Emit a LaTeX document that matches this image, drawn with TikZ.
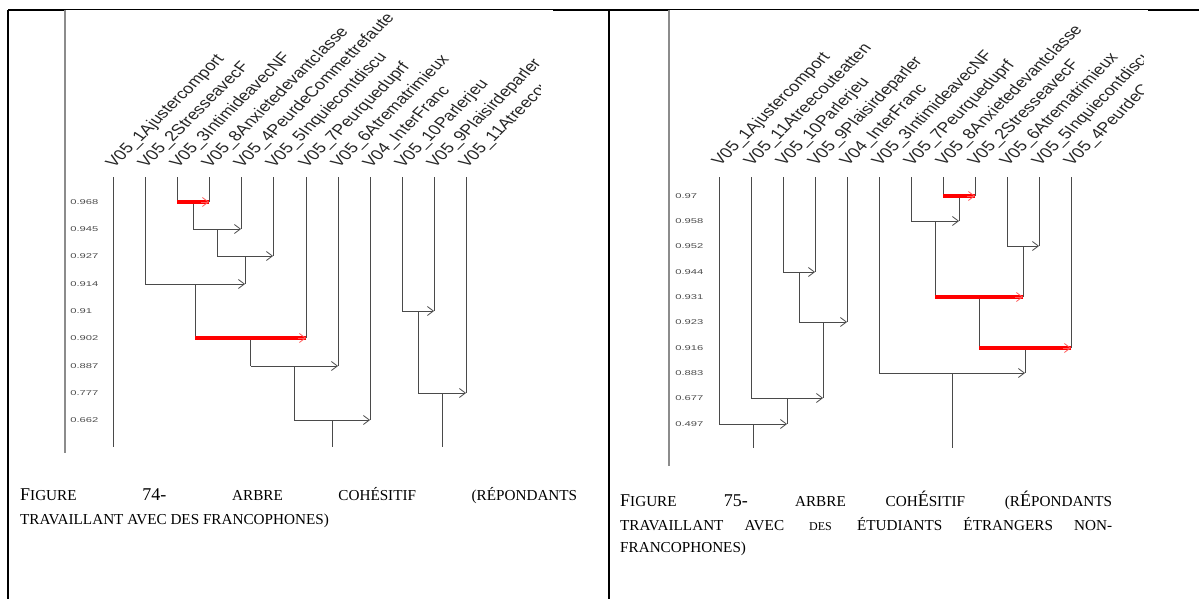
\documentclass[tikz,border=0pt]{standalone}
\usepackage{fontspec}
\setmainfont{Liberation Serif}
\newfontfamily\plotfont{Liberation Sans}
\usetikzlibrary{arrows.meta, calc}
\definecolor{treegray}{HTML}{4A4A4A}
\definecolor{axisgray}{HTML}{8C8C8C}
\definecolor{tipred}{HTML}{FF5A5A}
\newcommand{\capsmall}[1]{{\fontsize{15.2}{18}\selectfont #1}}
\newcommand{\capsmaller}[1]{{\fontsize{12}{14}\selectfont #1}}

\begin{document}
\begin{tikzpicture}[x=1pt, y=-1pt,
  tableline/.style={draw=black, line width=2pt},
  imgline/.style={draw=black, line width=1pt},
  axisline/.style={draw=axisgray, line width=2pt},
  link/.style={draw=treegray, line width=0.9pt},
  arr/.style={link, -{Straight Barb[length=6pt, width=9pt, line width=0.8pt]}},
  hot/.style={draw=red, line width=3.5pt},
  hottip/.style={draw=tipred, line width=0.8pt, -{Straight Barb[length=6pt, width=9pt]}},
  lvl/.style={font={\plotfont\fontsize{7}{8}\selectfont}, text=black!70, anchor=west, inner sep=0pt, xscale=1.6},
  leaf/.style={font={\plotfont\fontsize{14.6}{16}\selectfont}, text=black!85, anchor=base west, inner sep=0pt, xscale=1.25, rotate=51},
  figcap/.style={anchor=base west, inner sep=0pt, font=\fontsize{18}{21}\selectfont}
]
\useasboundingbox (0,0) rectangle (1199,599);

% Table frame
\draw[tableline] (8,10) -- (8,599);
\draw[tableline] (609,10) -- (609,599);
\draw[tableline] (8,10) -- (65,10);
\draw[tableline] (553,10) -- (669,10);
\draw[tableline] (1148,10) -- (1199,10);
\draw[imgline] (65,9.5) -- (553,9.5);
\draw[imgline] (669,9.5) -- (1148,9.5);
\draw[axisline] (65,10) -- (65,453);
\draw[axisline] (669,10) -- (669,466);

% Left tree: levels
\node[lvl] (lv968) at (70,202) {0.968};
\node[lvl] (lv945) at (70,229) {0.945};
\node[lvl] (lv927) at (70,256) {0.927};
\node[lvl] (lv914) at (70,284) {0.914};
\node[lvl] (lv910) at (70,311) {0.91};
\node[lvl] (lv902) at (70,338) {0.902};
\node[lvl] (lv887) at (70,366) {0.887};
\node[lvl] (lv777) at (70,393) {0.777};
\node[lvl] (lv662) at (70,420) {0.662};
\coordinate (lbot) at (0,447);

% Left tree: leaves
\coordinate (a1) at (113,177);
\coordinate (a2) at (145,177);
\coordinate (a3) at (177,177);
\coordinate (a4) at (209,177);
\coordinate (a5) at (241,177);
\coordinate (a6) at (273,177);
\coordinate (a7) at (306,177);
\coordinate (a8) at (338,177);
\coordinate (a9) at (370,177);
\coordinate (a10) at (402,177);
\coordinate (a11) at (434,177);
\coordinate (a12) at (466,177);

\begin{scope}
\clip (8,10) rectangle (540,470);
\node[leaf] (la1) at ([xshift=1pt,yshift=8pt]a1) {V05\_1Ajustercomport};
\node[leaf] (la2) at ([xshift=1pt,yshift=8pt]a2) {V05\_2StresseavecF};
\node[leaf] (la3) at ([xshift=1pt,yshift=8pt]a3) {V05\_3IntimideavecNF};
\node[leaf] (la4) at ([xshift=1pt,yshift=8pt]a4) {V05\_8Anxietedevantclasse};
\node[leaf] (la5) at ([xshift=1pt,yshift=8pt]a5) {V05\_4PeurdeCommettrefaute};
\node[leaf] (la6) at ([xshift=1pt,yshift=8pt]a6) {V05\_5Inquiecontdiscu};
\node[leaf] (la7) at ([xshift=1pt,yshift=8pt]a7) {V05\_7Peurqueduprf};
\node[leaf] (la8) at ([xshift=1pt,yshift=8pt]a8) {V05\_6Atrematrimieux};
\node[leaf] (la9) at ([xshift=1pt,yshift=8pt]a9) {V04\_InterFranc};
\node[leaf] (la10) at ([xshift=1pt,yshift=8pt]a10) {V05\_10Parlerjeu};
\node[leaf] (la11) at ([xshift=1pt,yshift=8pt]a11) {V05\_9Plaisirdeparler};
\node[leaf] (la12) at ([xshift=1pt,yshift=8pt]a12) {V05\_11Atreecouteatten};
\end{scope}

% Left tree: junctions
\coordinate (n968) at ($(a3 |- lv968)!.5!(a4 |- lv968)$);
\coordinate (n945) at ($(n968 |- lv945)!.5!(a5 |- lv945)$);
\coordinate (n927) at ($(n945 |- lv927)!.5!(a6 |- lv927)$);
\coordinate (n914) at ($(a2 |- lv914)!.5!(n927 |- lv914)$);
\coordinate (n902) at ($(n914 |- lv902)!.5!(a7 |- lv902)$);
\coordinate (n887) at ($(n902 |- lv887)!.5!(a8 |- lv887)$);
\coordinate (n662) at ($(n887 |- lv662)!.5!(a9 |- lv662)$);
\coordinate (n910) at ($(a10 |- lv910)!.5!(a11 |- lv910)$);
\coordinate (n777) at ($(n910 |- lv777)!.5!(a12 |- lv777)$);

% Left tree: stems
\draw[link] (a1) -- (a1 |- lbot);
\draw[link] (a2) -- (a2 |- lv914);
\draw[link] (a3) -- (a3 |- lv968);
\draw[link] (a4) -- (a4 |- lv968);
\draw[link] (a5) -- (a5 |- lv945);
\draw[link] (a6) -- (a6 |- lv927);
\draw[link] (a7) -- (a7 |- lv902);
\draw[link] (a8) -- (a8 |- lv887);
\draw[link] (a9) -- (a9 |- lv662);
\draw[link] (a10) -- (a10 |- lv910);
\draw[link] (a11) -- (a11 |- lv910);
\draw[link] (a12) -- (a12 |- lv777);
\draw[link] (n968) -- (n968 |- lv945);
\draw[link] (n945) -- (n945 |- lv927);
\draw[link] (n927) -- (n927 |- lv914);
\draw[link] (n914) -- (n914 |- lv902);
\draw[link] (n902) -- (n902 |- lv887);
\draw[link] (n887) -- (n887 |- lv662);
\draw[link] (n662) -- (n662 |- lbot);
\draw[link] (n910) -- (n910 |- lv777);
\draw[link] (n777) -- (n777 |- lbot);

% Left tree: arrows
\draw[hot] (a3 |- n968) -- (a4 |- n968);
\draw[hottip] ($(a4 |- n968)+(-8,0)$) -- (a4 |- n968);
\draw[arr] (n968 |- n945) -- (a5 |- n945);
\draw[arr] (n945 |- n927) -- (a6 |- n927);
\draw[arr] (a2 |- n914) -- (n927 |- n914);
\draw[hot] (n914 |- n902) -- (a7 |- n902);
\draw[hottip] ($(a7 |- n902)+(-8,0)$) -- (a7 |- n902);
\draw[arr] (n902 |- n887) -- (a8 |- n887);
\draw[arr] (n887 |- n662) -- (a9 |- n662);
\draw[arr] (a10 |- n910) -- (a11 |- n910);
\draw[arr] (n910 |- n777) -- (a12 |- n777);

% Right tree: levels
\node[lvl] (rv970) at (675,196) {0.97};
\node[lvl] (rv958) at (675,221) {0.958};
\node[lvl] (rv952) at (675,246) {0.952};
\node[lvl] (rv944) at (675,272) {0.944};
\node[lvl] (rv931) at (675,297) {0.931};
\node[lvl] (rv923) at (675,322) {0.923};
\node[lvl] (rv916) at (675,348) {0.916};
\node[lvl] (rv883) at (675,373) {0.883};
\node[lvl] (rv677) at (675,398) {0.677};
\node[lvl] (rv497) at (675,424) {0.497};
\coordinate (rbot) at (0,448);

% Right tree: leaves
\coordinate (b1) at (719,177);
\coordinate (b2) at (751,177);
\coordinate (b3) at (783,177);
\coordinate (b4) at (815,177);
\coordinate (b5) at (847,177);
\coordinate (b6) at (879,177);
\coordinate (b7) at (911,177);
\coordinate (b8) at (943,177);
\coordinate (b9) at (975,177);
\coordinate (b10) at (1007,177);
\coordinate (b11) at (1039,177);
\coordinate (b12) at (1071,177);

\begin{scope}
\clip (669,10) rectangle (1143,470);
\node[leaf] (lb1) at ([xshift=1pt,yshift=10pt]b1) {V05\_1Ajustercomport};
\node[leaf] (lb2) at ([xshift=1pt,yshift=10pt]b2) {V05\_11Atreecouteatten};
\node[leaf] (lb3) at ([xshift=1pt,yshift=10pt]b3) {V05\_10Parlerjeu};
\node[leaf] (lb4) at ([xshift=1pt,yshift=10pt]b4) {V05\_9Plaisirdeparler};
\node[leaf] (lb5) at ([xshift=1pt,yshift=10pt]b5) {V04\_InterFranc};
\node[leaf] (lb6) at ([xshift=1pt,yshift=10pt]b6) {V05\_3IntimideavecNF};
\node[leaf] (lb7) at ([xshift=1pt,yshift=10pt]b7) {V05\_7Peurqueduprf};
\node[leaf] (lb8) at ([xshift=1pt,yshift=10pt]b8) {V05\_8Anxietedevantclasse};
\node[leaf] (lb9) at ([xshift=1pt,yshift=10pt]b9) {V05\_2StresseavecF};
\node[leaf] (lb10) at ([xshift=1pt,yshift=10pt]b10) {V05\_6Atrematrimieux};
\node[leaf] (lb11) at ([xshift=1pt,yshift=10pt]b11) {V05\_5Inquiecontdiscu};
\node[leaf] (lb12) at ([xshift=1pt,yshift=10pt]b12) {V05\_4PeurdeCommettrefaute};
\end{scope}

% Right tree: junctions
\coordinate (m944) at ($(b3 |- rv944)!.5!(b4 |- rv944)$);
\coordinate (m923) at ($(m944 |- rv923)!.5!(b5 |- rv923)$);
\coordinate (m677) at ($(b2 |- rv677)!.5!(m923 |- rv677)$);
\coordinate (m497) at ($(b1 |- rv497)!.5!(m677 |- rv497)$);
\coordinate (m970) at ($(b8 |- rv970)!.5!(b9 |- rv970)$);
\coordinate (m958) at ($(b7 |- rv958)!.5!(m970 |- rv958)$);
\coordinate (m952) at ($(b10 |- rv952)!.5!(b11 |- rv952)$);
\coordinate (m931) at ($(m958 |- rv931)!.5!(m952 |- rv931)$);
\coordinate (m916) at ($(m931 |- rv916)!.5!(b12 |- rv916)$);
\coordinate (m883) at ($(b6 |- rv883)!.5!(m916 |- rv883)$);

% Right tree: stems
\draw[link] (b1) -- (b1 |- rv497);
\draw[link] (b2) -- (b2 |- rv677);
\draw[link] (b3) -- (b3 |- rv944);
\draw[link] (b4) -- (b4 |- rv944);
\draw[link] (b5) -- (b5 |- rv923);
\draw[link] (b6) -- (b6 |- rv883);
\draw[link] (b7) -- (b7 |- rv958);
\draw[link] (b8) -- (b8 |- rv970);
\draw[link] (b9) -- (b9 |- rv970);
\draw[link] (b10) -- (b10 |- rv952);
\draw[link] (b11) -- (b11 |- rv952);
\draw[link] (b12) -- (b12 |- rv916);
\draw[link] (m944) -- (m944 |- rv923);
\draw[link] (m923) -- (m923 |- rv677);
\draw[link] (m677) -- (m677 |- rv497);
\draw[link] (m497) -- (m497 |- rbot);
\draw[link] (m970) -- (m970 |- rv958);
\draw[link] (m958) -- (m958 |- rv931);
\draw[link] (m952) -- (m952 |- rv931);
\draw[link] (m931) -- (m931 |- rv916);
\draw[link] (m916) -- (m916 |- rv883);
\draw[link] (m883) -- (m883 |- rbot);

% Right tree: arrows
\draw[arr] (b3 |- m944) -- (b4 |- m944);
\draw[arr] (m944 |- m923) -- (b5 |- m923);
\draw[arr] (b2 |- m677) -- (m923 |- m677);
\draw[arr] (b1 |- m497) -- (m677 |- m497);
\draw[hot] (b8 |- m970) -- (b9 |- m970);
\draw[hottip] ($(b9 |- m970)+(-8,0)$) -- (b9 |- m970);
\draw[arr] (b7 |- m958) -- (m970 |- m958);
\draw[arr] (b10 |- m952) -- (b11 |- m952);
\draw[hot] (m958 |- m931) -- (m952 |- m931);
\draw[hottip] ($(m952 |- m931)+(-8,0)$) -- (m952 |- m931);
\draw[hot] (m931 |- m916) -- (b12 |- m916);
\draw[hottip] ($(b12 |- m916)+(-8,0)$) -- (b12 |- m916);
\draw[arr] (b6 |- m883) -- (m916 |- m883);

% Captions
\node[figcap] (cap74a) at (20,500) {\makebox[557pt][s]{F\capsmall{IGURE} 74- \capsmall{ARBRE COHÉSITIF (RÉPONDANTS}}};
\node[figcap] (cap74b) at (20,524) {\capsmall{TRAVAILLANT AVEC DES FRANCOPHONES)}};
\node[figcap] (cap75a) at (620,506) {\makebox[492pt][s]{F\capsmall{IGURE} 75- \capsmall{ARBRE COH}É\capsmall{SITIF (R}É\capsmall{PONDANTS}}};
\node[figcap] (cap75b) at (620,530) {\makebox[492pt][s]{\capsmall{TRAVAILLANT AVEC} \capsmaller{DES} \capsmall{ÉTUDIANTS ÉTRANGERS NON-}}};
\node[figcap] (cap75c) at (620,552) {\capsmall{FRANCOPHONES)}};
\end{tikzpicture}
\end{document}
